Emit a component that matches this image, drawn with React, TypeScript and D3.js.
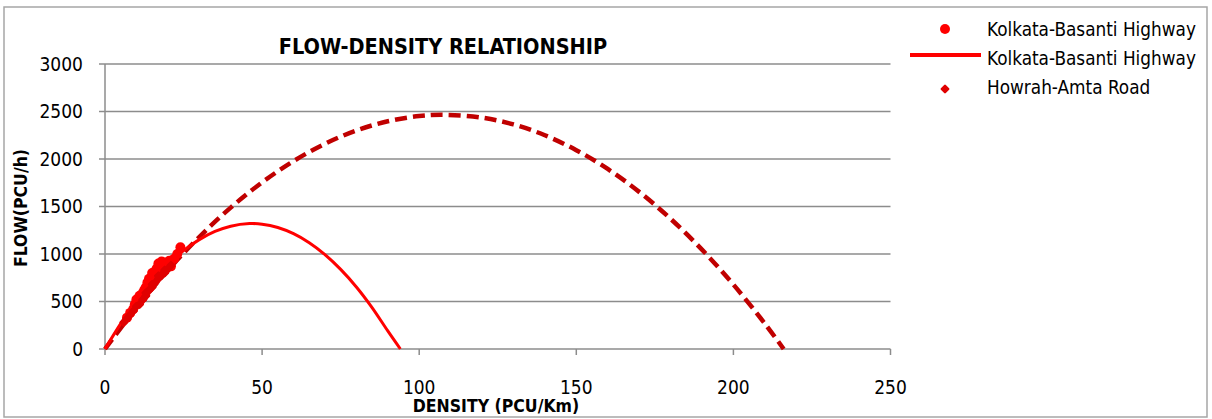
import React from "react";
import * as d3 from "d3";

const xTicks = [0, 50, 100, 150, 200, 250];
const yTicks = [0, 500, 1000, 1500, 2000, 2500, 3000];

// Kolkata-Basanti Highway observed points (density, flow)
const kbDensity = [7, 8, 9, 9.5, 10, 10.5, 11, 11, 12, 12.5, 13, 13, 13.5, 14, 14, 14.5, 15, 15, 15.5, 16, 16, 16.5, 17, 17, 17.5, 18, 18, 18.5, 19, 19.5, 20, 20.5, 21, 22, 23, 24, 12, 15, 16.5, 19];
const kbFlow = [330, 380, 420, 470, 520, 480, 560, 500, 590, 620, 650, 600, 700, 690, 740, 720, 760, 800, 780, 820, 760, 850, 840, 900, 870, 920, 860, 880, 910, 890, 900, 930, 870, 950, 1000, 1070, 540, 700, 790, 840];

// Howrah-Amta Road observed points
const haDensity = [6, 7, 8, 9, 10, 11, 12, 13, 14, 15, 16, 17, 18, 19, 20, 21, 13, 15, 17, 19];
const haFlow = [280, 320, 360, 400, 450, 470, 520, 560, 620, 650, 700, 740, 780, 800, 840, 880, 590, 680, 770, 830];

// Kolkata-Basanti fitted curve (solid)
const kbCurveDensity = [0, 5, 10, 15, 20, 25, 30, 35, 40, 46, 50, 55, 60, 65, 70, 75, 80, 85, 90, 94];
const kbCurveFlow = [0, 267, 505, 712, 888, 1035, 1151, 1237, 1293, 1320, 1314, 1279, 1214, 1119, 994, 838, 653, 436, 190, 0];

// Howrah-Amta fitted curve (dashed)
const haCurveDensity = [0, 10, 20, 30, 40, 50, 60, 70, 80, 90, 100, 108, 120, 130, 140, 150, 160, 170, 180, 190, 200, 210, 216];
const haCurveFlow = [0, 435, 828, 1179, 1488, 1754, 1978, 2160, 2300, 2397, 2452, 2465, 2435, 2364, 2250, 2093, 1895, 1654, 1371, 1046, 678, 268, 0];

const FONT = "'DejaVu Sans Condensed', 'DejaVu Sans', sans-serif";

export default function App() {
  const W = 1212, H = 419;
  const x = d3.scaleLinear().domain([0, 250]).range([105, 890.5]);
  const y = d3.scaleLinear().domain([0, 3000]).range([349, 64]);
  const line = d3.line<[number, number]>().x(d => x(d[0])).y(d => y(d[1])).curve(d3.curveCatmullRom);
  const kbCurve: [number, number][] = kbCurveDensity.map((k, i) => [k, kbCurveFlow[i]]);
  const haCurve: [number, number][] = haCurveDensity.map((k, i) => [k, haCurveFlow[i]]);

  return (
    <svg width={W} height={H} style={{ position: "absolute", left: 0, top: 0, background: "#fff" }} fontFamily={FONT}>
      <rect x={4} y={7} width={1203} height={410} fill="#fff" stroke="#a6a6a6" strokeWidth={1.5} />
      {/* gridlines */}
      {yTicks.map(t => (
        <g key={"y" + t}>
          <line x1={x(0)} x2={x(250)} y1={y(t)} y2={y(t)} stroke="#8c8c8c" strokeWidth={1.5} />
          <line x1={99} x2={x(0)} y1={y(t)} y2={y(t)} stroke="#8c8c8c" strokeWidth={1.5} />
          <text x={83} y={y(t)} dy="0.36em" textAnchor="end" fontSize={19} fill="#000">{t}</text>
        </g>
      ))}
      <line x1={x(0)} x2={x(0)} y1={y(3000)} y2={y(0)} stroke="#8c8c8c" strokeWidth={1.5} />
      {xTicks.map(t => (
        <g key={"x" + t}>
          <line x1={x(t)} x2={x(t)} y1={y(0)} y2={y(0) + 6} stroke="#8c8c8c" strokeWidth={1.5} />
          <text x={x(t)} y={394} textAnchor="middle" fontSize={19} fill="#000">{t}</text>
        </g>
      ))}
      {/* curves */}
      <path d={line(haCurve) || ""} fill="none" stroke="#c00000" strokeWidth={4.5} strokeDasharray="12,6" />
      <path d={line(kbCurve) || ""} fill="none" stroke="#ff0000" strokeWidth={3} />
      {/* scatter */}
      {kbDensity.map((k, i) => (
        <circle key={"kb" + i} cx={x(k)} cy={y(kbFlow[i])} r={5} fill="#ff0000" />
      ))}
      {haDensity.map((k, i) => (
        <rect key={"ha" + i} x={-3.5} y={-3.5} width={7} height={7} rx={1.2}
          transform={`translate(${x(k)},${y(haFlow[i])}) rotate(45)`} fill="#e00000" />
      ))}
      {/* titles */}
      <text x={443} y={54} textAnchor="middle" fontSize={21.5} fontWeight="bold" fill="#000">FLOW-DENSITY RELATIONSHIP</text>
      <text x={496} y={412} textAnchor="middle" fontSize={17.5} fontWeight="bold" fill="#000">DENSITY (PCU/Km)</text>
      <text transform="translate(27,208) rotate(-90)" textAnchor="middle" fontSize={17.5} fontWeight="bold" fill="#000">FLOW(PCU/h)</text>
      {/* legend */}
      <circle cx={945} cy={29} r={5} fill="#ff0000" />
      <text x={987} y={29} dy="0.36em" fontSize={18.8} fill="#000">Kolkata-Basanti Highway</text>
      <line x1={910} x2={981} y1={55} y2={55} stroke="#ff0000" strokeWidth={4} />
      <text x={987} y={58} dy="0.36em" fontSize={18.8} fill="#000">Kolkata-Basanti Highway</text>
      <rect x={-3.5} y={-3.5} width={7} height={7} rx={1.2} transform="translate(945,89) rotate(45)" fill="#e00000" />
      <text x={987} y={87} dy="0.36em" fontSize={18.8} fill="#000">Howrah-Amta Road</text>
    </svg>
  );
}
